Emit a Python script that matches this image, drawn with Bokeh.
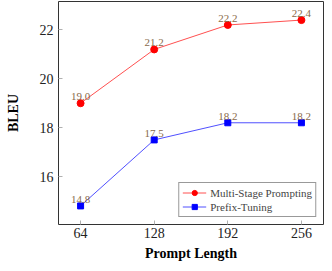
from bokeh.plotting import figure
from bokeh.models import FixedTicker, Range1d, Legend, LegendItem, ColumnDataSource
from bokeh.core.properties import value
from bokeh.embed import file_html
from bokeh.resources import INLINE

prompt_length = [64, 128, 192, 256]
msp_bleu = [19.0, 21.2, 22.2, 22.4]
prefix_bleu = [14.8, 17.5, 18.2, 18.2]
x_ticks = [64, 128, 192, 256]
y_ticks = [16, 18, 20, 22]

FONT = "'Liberation Serif', serif"

p = figure(width=324, height=263, output_backend="svg", toolbar_location=None,
           x_range=Range1d(44.8, 275.2), y_range=Range1d(14.04, 23.16),
           min_border_left=58, min_border_right=1, min_border_top=1, min_border_bottom=37)
p.grid.visible = False
p.outline_line_color = "#333333"
p.outline_line_width = 1
p.background_fill_color = "white"
p.border_fill_color = "white"

def style_axis(ax, ticks):
    ax.ticker = FixedTicker(ticks=ticks)
    ax.axis_line_color = None
    ax.major_tick_in = 4
    ax.major_tick_out = 0
    ax.major_tick_line_color = "#b0b0b0"
    ax.minor_tick_line_color = None
    ax.major_label_text_font = FONT
    ax.major_label_text_color = "#222222"
    ax.major_label_text_font_size = "14px"
    ax.axis_label_text_font = FONT
    ax.axis_label_text_font_style = "bold"
    ax.axis_label_text_font_size = "14px"
    ax.axis_label_text_color = "black"

style_axis(p.xaxis[0], x_ticks)
style_axis(p.yaxis[0], y_ticks)
p.xaxis[0].major_label_standoff = 3
p.yaxis[0].major_label_standoff = 5
p.xaxis[0].axis_label = "Prompt Length"
p.yaxis[0].axis_label = "BLEU"
p.xaxis[0].axis_label_standoff = 5
p.yaxis[0].axis_label_standoff = 16

src1 = ColumnDataSource(dict(x=prompt_length, y=msp_bleu, t=[f"{v:.1f}" for v in msp_bleu]))
src2 = ColumnDataSource(dict(x=prompt_length, y=prefix_bleu, t=[f"{v:.1f}" for v in prefix_bleu]))

l1 = p.line("x", "y", source=src1, line_color="#ff5050", line_width=1)
m1 = p.scatter("x", "y", source=src1, marker="circle", size=7, fill_color="#ff0000", line_color="#ff0000")
l2 = p.line("x", "y", source=src2, line_color="#5050ff", line_width=1)
m2 = p.scatter("x", "y", source=src2, marker="square", size=6, fill_color="#0000ff", line_color="#0000ff")

for s in (src1, src2):
    p.text("x", "y", text="t", source=s, text_align="center", text_baseline="bottom",
           y_offset=-3, text_font_size="11px", text_color="#8a6a4a",
           text_font=value(FONT))

legend = Legend(items=[LegendItem(label="Multi-Stage Prompting", renderers=[l1, m1]),
                       LegendItem(label="Prefix-Tuning", renderers=[l2, m2])],
                location="bottom_right")
legend.label_text_font = FONT
legend.label_text_font_size = "11px"
legend.label_height = 13
legend.glyph_height = 13
legend.glyph_width = 24
legend.spacing = 1
legend.padding = 3
legend.margin = 7
legend.border_line_color = "#333333"
legend.label_standoff = 4
p.add_layout(legend)

open("out.html", "w").write(file_html(p, INLINE))
